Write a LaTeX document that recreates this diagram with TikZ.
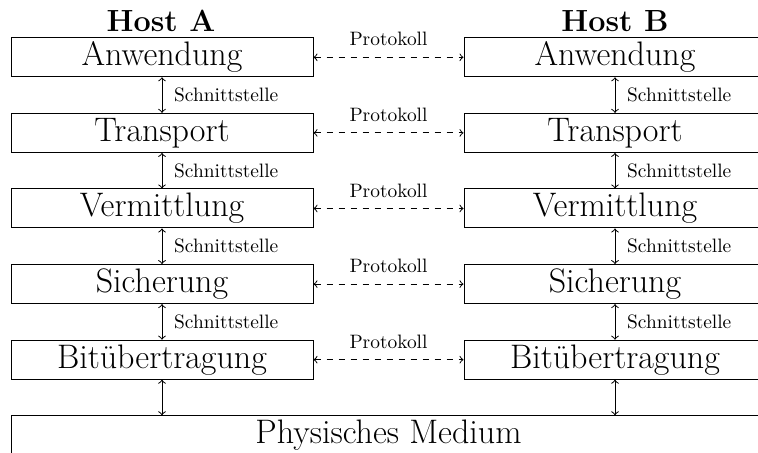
\documentclass[tikz,border=0pt]{standalone}
\usepackage{fontspec}
\begin{document}
\begin{tikzpicture}[x=0.5pt,y=0.5pt,
  layer/.style={draw, line width=0.5pt, minimum width=151pt, minimum height=19.5pt, inner sep=0pt, font=\fontsize{17}{20}\selectfont},
  host/.style={font=\fontsize{15.3}{18}\selectfont\bfseries},
  iface/.style={<->, line width=0.5pt},
  proto/.style={<->, dashed, line width=0.5pt},
  lbl/.style={font=\fontsize{9.7}{11}\selectfont}]
\clip (0,0) rectangle (758,453);
\node[host] (ha) at (161,432) {Host A};
\node[host] (hb) at (615,432) {Host B};
\node[layer] (a1) at (162,395.7) {Anwendung};
\node[layer] (a2) at (162,320.1) {Transport};
\node[layer] (a3) at (162,244.5) {Vermittlung};
\node[layer] (a4) at (162,168.9) {Sicherung};
\node[layer] (a5) at (162,93.3) {Bitübertragung};
\node[layer] (b1) at (615,395.7) {Anwendung};
\node[layer] (b2) at (615,320.1) {Transport};
\node[layer] (b3) at (615,244.5) {Vermittlung};
\node[layer] (b4) at (615,168.9) {Sicherung};
\node[layer] (b5) at (615,93.3) {Bitübertragung};
\node[layer, minimum width=377.5pt] (med) at (388.5,17.7) {Physisches Medium};
\foreach \u/\l in {1/2,2/3,3/4,4/5}{
  \draw[iface] (a\u.south) -- node[lbl, right=2.5pt] {Schnittstelle} (a\l.north);
  \draw[iface] (b\u.south) -- node[lbl, right=2.5pt] {Schnittstelle} (b\l.north);
}
\foreach \i in {1,...,5}{
  \draw[proto] (a\i.east) -- node[lbl, above=2pt] {Protokoll} (b\i.west);
}
\draw[iface] (a5.south) -- (a5.south |- med.north);
\draw[iface] (b5.south) -- (b5.south |- med.north);
\end{tikzpicture}
\end{document}
